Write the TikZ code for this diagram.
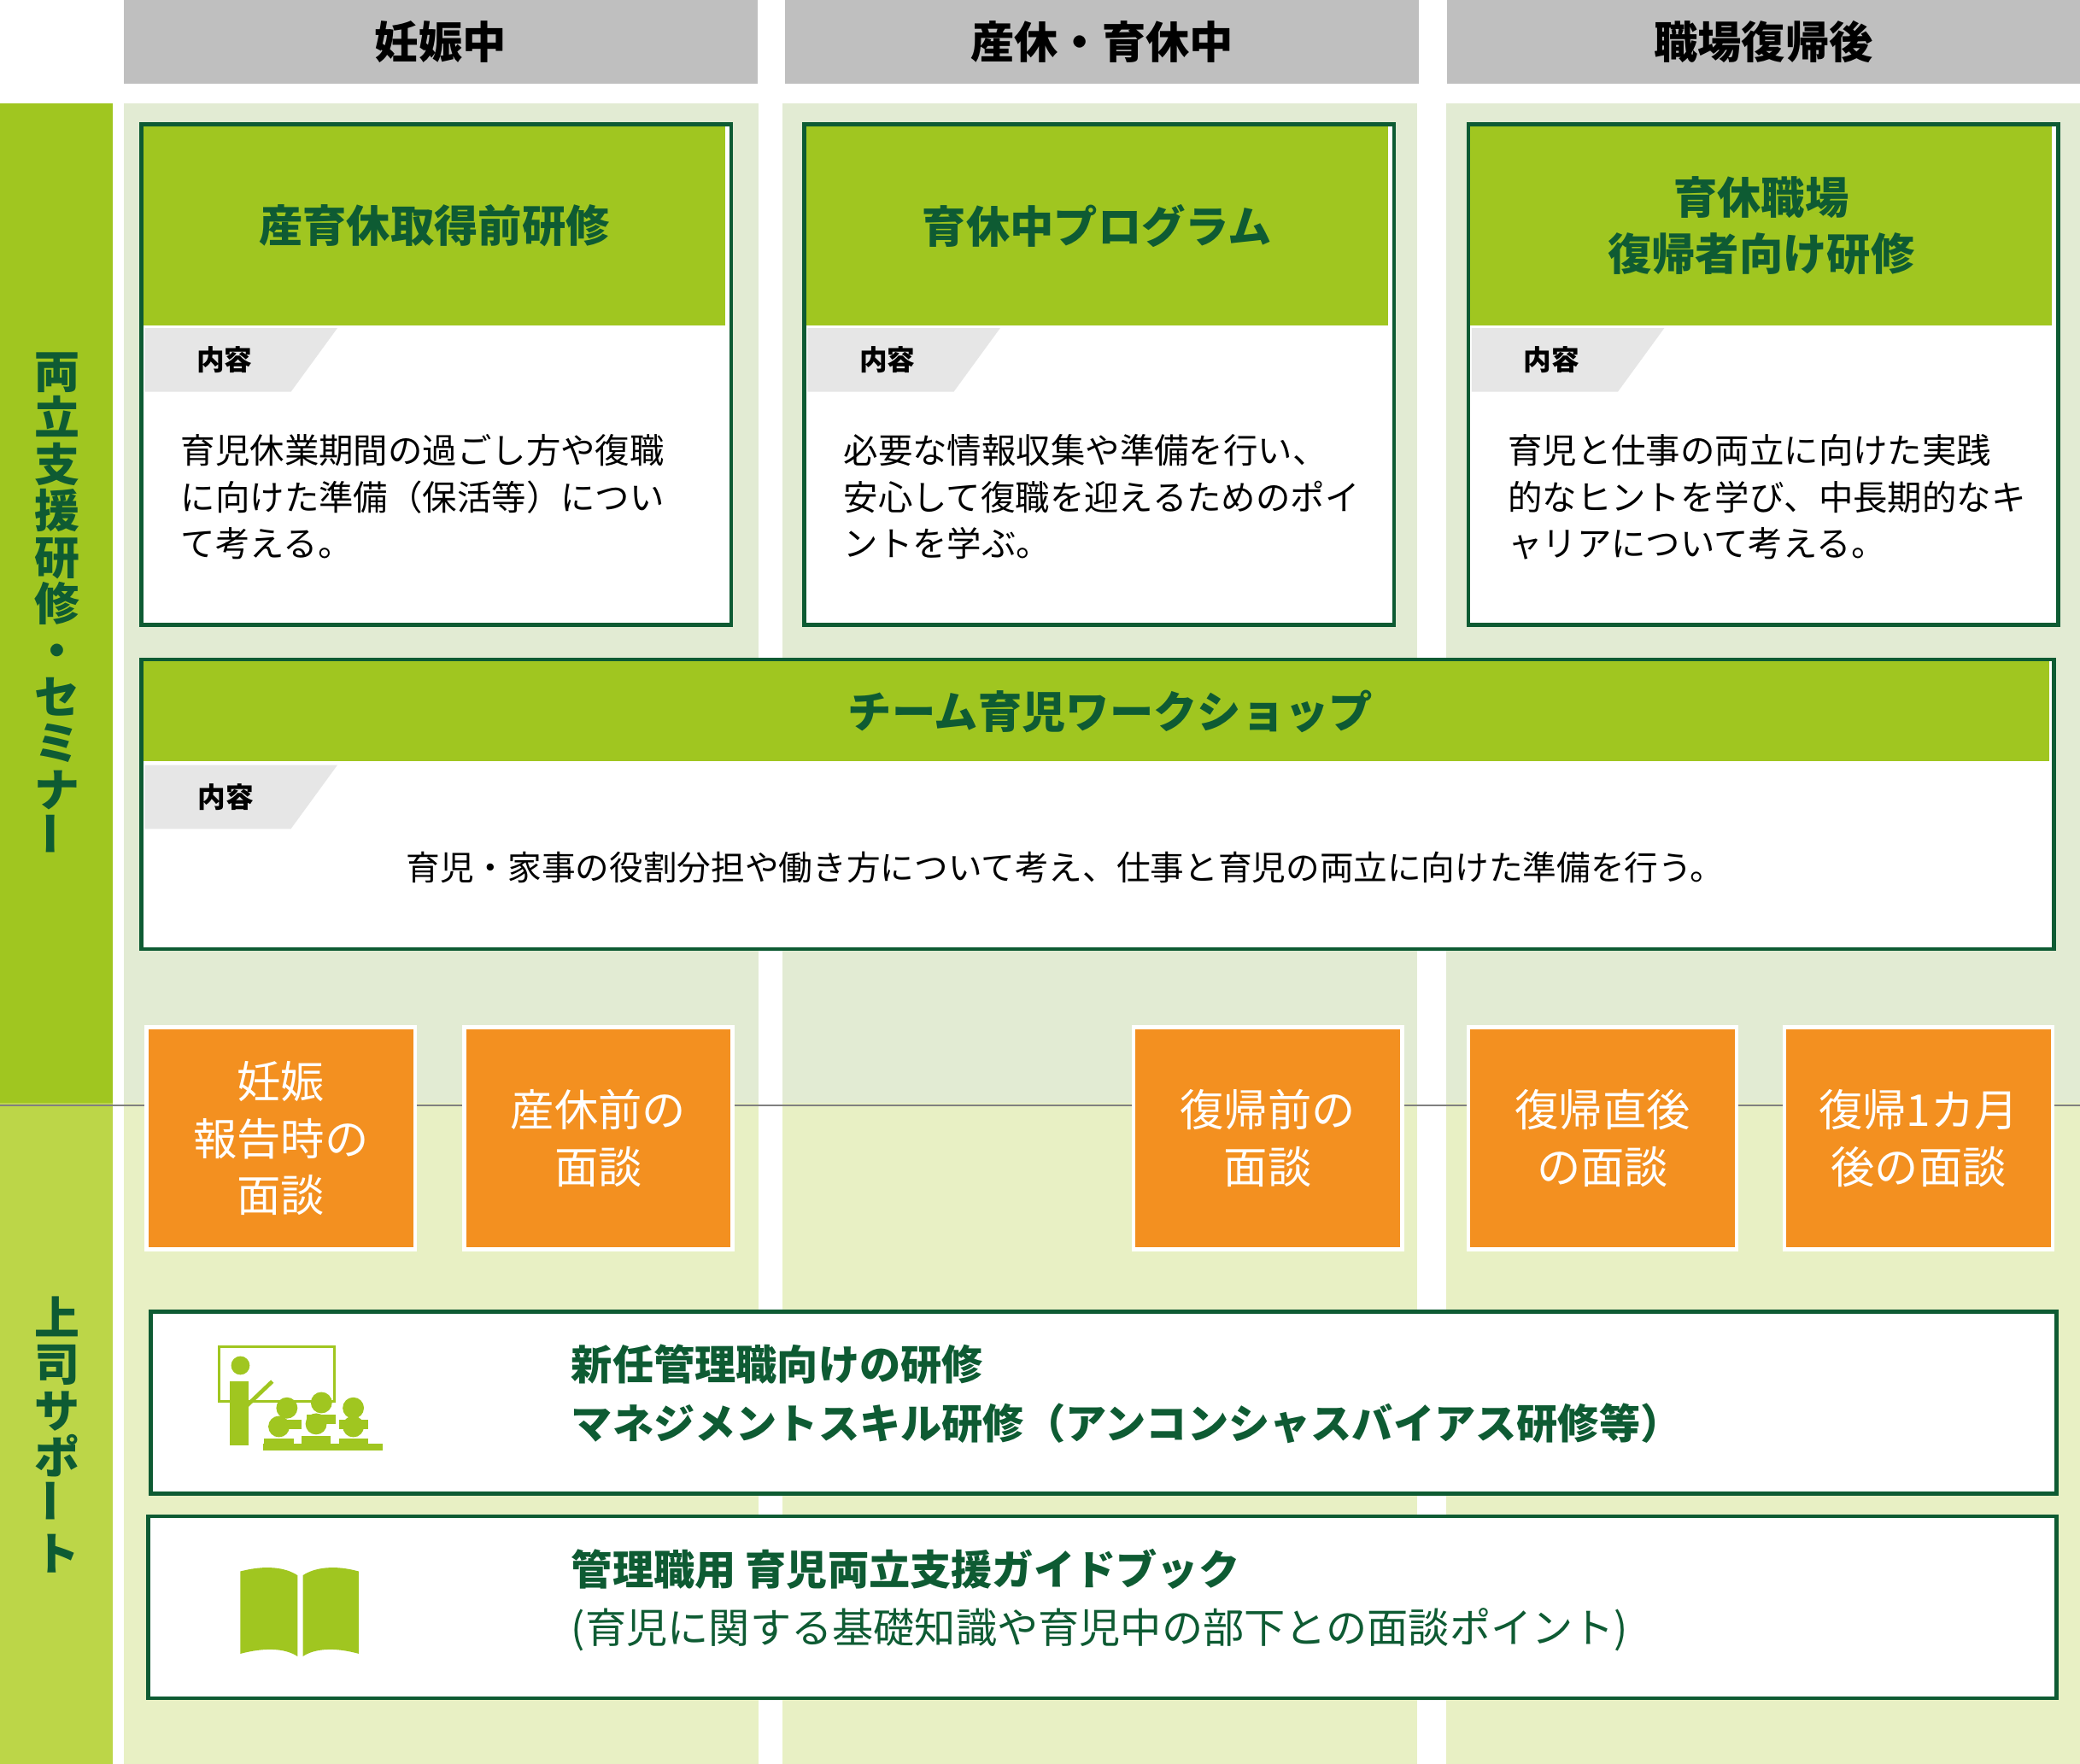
\documentclass[tikz,border=0pt]{standalone}
\usepackage{fontspec}
\setmainfont{Noto Sans CJK JP}
\usetikzlibrary{positioning}
\definecolor{leaf}{HTML}{A0C620}
\definecolor{leaflow}{HTML}{BCD648}
\definecolor{forest}{HTML}{0E5B33}
\definecolor{mist}{HTML}{E2EBD3}
\definecolor{cream}{HTML}{E8F0C4}
\definecolor{headgray}{HTML}{BFBFBF}
\definecolor{tabgray}{HTML}{E6E6E6}
\definecolor{carrot}{HTML}{F39020}

\begin{document}
\begin{tikzpicture}[
x=1pt, y=-1pt,
headbar/.style={fill=headgray, minimum width=477pt, minimum height=63pt, anchor=north west, inner sep=0pt,
  font=\fontsize{33}{36}\selectfont\bfseries},
framebox/.style={draw=forest, line width=3pt, fill=white, anchor=north west, inner sep=0pt},
titletext/.style={text=forest, align=center, font=\fontsize{33}{42}\selectfont\bfseries},
bodytext/.style={align=left, anchor=north west, font=\fontsize{26}{35}\selectfont, inner sep=0pt},
tabtext/.style={font=\fontsize{21}{24}\selectfont\bfseries},
talkbox/.style={fill=carrot, draw=white, line width=3pt, minimum width=202pt, minimum height=167pt,
  anchor=north west, inner sep=0pt, text=white, align=center, font=\fontsize{33}{43}\selectfont},
sidetext/.style={text=forest, align=center, font=\fontsize{34}{35}\selectfont\bfseries}
]
\useasboundingbox (0,0) rectangle (1566,1328);

% backgrounds
\fill[leaf] (0,78) rectangle (85,830);
\fill[leaflow] (0,830) rectangle (85,1328);
\foreach \xa/\xb in {93/571, 589/1067, 1089/1566}{
  \fill[mist] (\xa,78) rectangle (\xb,830);
  \fill[cream] (\xa,830) rectangle (\xb,1328);
}

% column heads
\node[headbar] (head_a) at (93,0) {妊娠中};
\node[headbar] (head_b) at (591,0) {産休・育休中};
\node[headbar] (head_c) at (1089,0) {職場復帰後};

% side labels
\node[sidetext] (side_top) at (43,455) {両\\立\\支\\援\\研\\修\\・\\セ\\ミ\\ナ\\\rotatebox{90}{ー}};
\node[sidetext] (side_low) at (43,1080) {上\\司\\サ\\ポ\\\rotatebox{90}{ー}\\ト};

% training boxes
\foreach \name/\xo/\title/\body in {
  a/105/{産育休取得前研修}/{育児休業期間の過ごし方や復職\\に向けた準備（保活等）につい\\て考える。},
  b/604/{育休中プログラム}/{必要な情報収集や準備を行い、\\安心して復職を迎えるためのポイ\\ントを学ぶ。},
  c/1104/{育休職場\\復帰者向け研修}/{育児と仕事の両立に向けた実践\\的なヒントを学び、中長期的なキ\\ャリアについて考える。}}{
  \node[framebox, minimum width=444pt, minimum height=377pt] (box_\name) at (\xo,92) {};
  \fill[leaf] (\xo+3,95) rectangle (\xo+441,245);
  \node[titletext] (title_\name) at (\xo+222,170) {\title};
  \fill[tabgray] (\xo+4,247) -- (\xo+149,247) -- (\xo+114,295) -- (\xo+4,295) -- cycle;
  \node[tabtext] (tab_\name) at (\xo+64,271) {内容};
  \node[bodytext] (body_\name) at (\xo+31,327) {\body};
}

% workshop
\node[framebox, minimum width=1440pt, minimum height=218pt] (box_w) at (105,495) {};
\fill[leaf] (108,498) rectangle (1543,573);
\node[titletext] (title_w) at (836,536) {チーム育児ワークショップ};
\fill[tabgray] (109,576) -- (254,576) -- (219,624) -- (109,624) -- cycle;
\node[tabtext] (tab_w) at (170,600) {内容};
\node[font=\fontsize{25.5}{35}\selectfont] (body_w) at (802,653) {育児・家事の役割分担や働き方について考え、仕事と育児の両立に向けた準備を行う。};

% interviews
\coordinate (line_l) at (0,832);
\coordinate (line_r) at (1566,832);
\draw[gray, line width=1.5pt] (line_l) -- (line_r);
\node[talkbox] (talk_a) at (109,772) {妊娠\\報告時の\\面談};
\node[talkbox] (talk_b) at (348,772) {産休前の\\面談};
\node[talkbox] (talk_c) at (852,772) {復帰前の\\面談};
\node[talkbox] (talk_d) at (1104,772) {復帰直後\\の面談};
\node[talkbox] (talk_e) at (1342,772) {復帰1カ月\\後の面談};

% manager support
\node[framebox, minimum width=1435pt, minimum height=137pt] (box_m) at (112,986) {};
\node[bodytext, text=forest, font=\fontsize{31}{44}\selectfont\bfseries] (text_m) at (430,1012)
  {新任管理職向けの研修\\マネジメントスキル研修（アンコンシャスバイアス研修等）};
\node[framebox, minimum width=1437pt, minimum height=137pt] (box_g) at (110,1140) {};
\node[bodytext, text=forest, font=\fontsize{31}{44}\selectfont] (text_g) at (430,1166)
  {\textbf{管理職用\ 育児両立支援ガイドブック}\\(育児に関する基礎知識や育児中の部下との面談ポイント)};

% teacher icon
\draw[leaf, line width=2pt] (165,1014) rectangle (252,1055);
\draw[leaf, line width=3pt] (184,1060) -- (205,1040);
\fill[leaf] (181,1028) circle (7);
\fill[leaf] (173,1040) rectangle (187,1088);
\foreach \px/\py in {216/1060, 242/1056, 266/1060, 210/1074, 238/1072, 266/1074}{
  \fill[leaf] (\px,\py) circle (8);
  \fill[leaf] (\px-11,\py+9) rectangle (\px+11,\py+16);
}
\fill[leaf] (198,1087) rectangle (288,1092);

% book icon
\fill[leaf] (181,1183) .. controls (200,1178) and (215,1180) .. (224,1186) -- (224,1247)
  .. controls (215,1241) and (200,1240) .. (181,1245) -- cycle;
\fill[leaf] (228,1186) .. controls (237,1180) and (252,1178) .. (270,1183) -- (270,1245)
  .. controls (252,1240) and (237,1241) .. (228,1247) -- cycle;
\end{tikzpicture}
\end{document}
